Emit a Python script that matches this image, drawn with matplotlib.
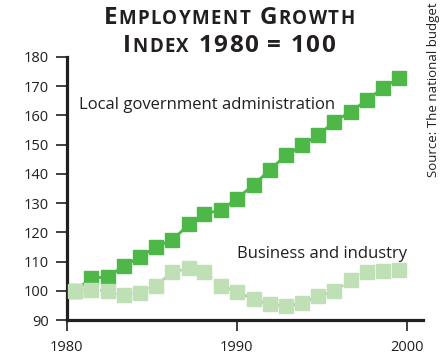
import matplotlib
matplotlib.use("Agg")
import matplotlib.pyplot as plt
from matplotlib.offsetbox import TextArea, HPacker, AnnotationBbox

# ---- data ----
years = [1980.5, 1981.45, 1982.4, 1983.35, 1984.3, 1985.25, 1986.2, 1987.2, 1988.1, 1989.1,
         1990.0, 1991.0, 1991.95, 1992.9, 1993.85, 1994.8, 1995.75, 1996.7, 1997.65, 1998.6, 1999.55]
local_gov = [100, 104.4, 104.7, 108.4, 111.6, 114.9, 117.4, 122.7, 126.3, 127.7, 131.5,
             136.3, 141.4, 146.4, 149.8, 153.3, 157.9, 161.3, 165.2, 169.4, 172.8]
business = [100, 100.3, 100.0, 98.4, 99.4, 101.8, 106.3, 107.8, 106.3, 101.7, 99.7,
            97.1, 95.4, 94.8, 95.7, 98.2, 99.9, 103.7, 106.3, 106.7, 107.2]
yticks = [90, 100, 110, 120, 130, 140, 150, 160, 170, 180]
xticks = [1980, 1990, 2000]

DARK = "#4db848"
LIGHT = "#bfe0b4"
LINEGREY = "#bdbdbd"
AXC = "#231f20"
FONT = "Open Sans"

plt.rcParams['font.family'] = [FONT, 'DejaVu Sans']

fig = plt.figure(figsize=(4.43, 3.56), dpi=100)
ax = fig.add_axes([0.1506, 0.1011, 0.955 - 0.1506, 0.8399 - 0.1011])

ax.plot(years, local_gov, color=DARK, lw=2, marker='s', ms=10, mec=DARK, mfc=DARK, zorder=2)
ax.plot(years, business, color=LINEGREY, lw=2, ls=(0, (2, 1)), marker='s', ms=10,
        mec=LIGHT, mfc=LIGHT, zorder=3)

ax.set_xlim(1980, 2000.96)
ax.set_ylim(90, 180)
ax.set_yticks(yticks)
ax.set_xticks(xticks)
ax.set_xticklabels([str(x) for x in xticks])
ax.tick_params(axis='both', direction='out', length=8, width=1.2, color=AXC,
               labelsize=10.5, labelcolor=AXC, pad=5)
ax.tick_params(axis='x', pad=6.5)
for s in ['top', 'right']:
    ax.spines[s].set_visible(False)
for s in ['left', 'bottom']:
    ax.spines[s].set_linewidth(2.3)
    ax.spines[s].set_color(AXC)
    ax.spines[s].set_capstyle('projecting')

ax.text(1980.7, 163.5, "Local government administration", fontsize=12, color=AXC,
        ha='left', va='center')
ax.text(2000.0, 112.5, "Business and industry", fontsize=12, color=AXC,
        ha='right', va='center')

# small-caps title, letter-spaced
BIG, SMALL = 17.5, 13.5
def sc_line(parts):
    kids = []
    for txt, big in parts:
        for ch in txt:
            if ch == " ":
                kids.append(TextArea("\u2002", textprops=dict(fontsize=SMALL - 4,
                                                              family=[FONT, 'DejaVu Sans'])))
                continue
            kids.append(TextArea(ch, textprops=dict(fontsize=BIG if big else SMALL,
                                                    fontweight='bold', color=AXC,
                                                    family=[FONT, 'DejaVu Sans'])))
    return HPacker(children=kids, align='baseline', pad=0, sep=1.0)

line1 = sc_line([("E", True), ("MPLOYMENT", False), (" G", True), ("ROWTH", False)])
line2 = sc_line([("I", True), ("NDEX", False), (" 1980 = 100", True)])
for box, ypix in [(line1, 356 - 30), (line2, 356 - 58)]:
    ab = AnnotationBbox(box, (229, ypix), xycoords='figure pixels', frameon=False,
                        box_alignment=(0.5, 0.0), pad=0)
    fig.add_artist(ab)

fig.text(433 / 443, 1 - 90 / 356, "Source: The national budget", rotation=90,
         fontsize=9.5, color=AXC, ha='center', va='center')

fig.savefig("out.png", dpi=100)
